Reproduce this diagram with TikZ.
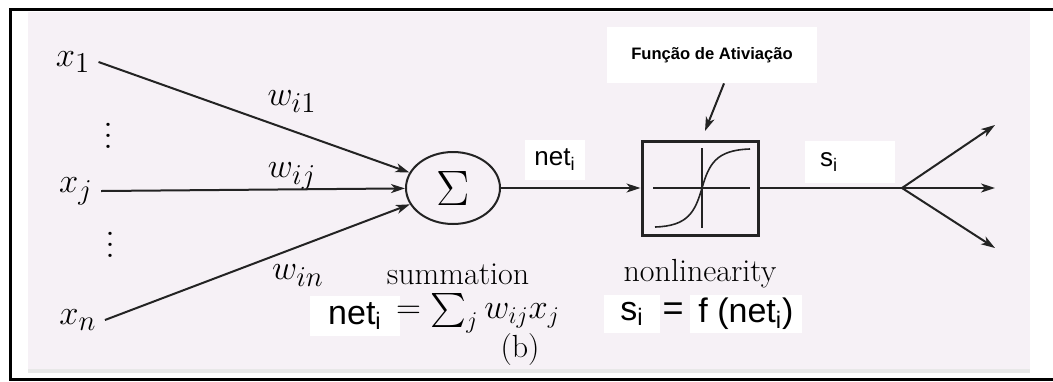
\documentclass[tikz,border=0pt]{standalone}
\usepackage{amsmath,amssymb}
\usepackage{fontspec}
\newfontfamily\arial{Liberation Sans}
\usetikzlibrary{arrows.meta,shapes.geometric}
\definecolor{paper}{RGB}{246,241,246}
\definecolor{ink}{RGB}{35,35,35}

\begin{document}
\begin{tikzpicture}[x=0.5pt,y=-0.5pt,>={Stealth[length=7pt,width=4.5pt,inset=2pt]},
 wire/.style={draw=ink,line width=1pt},
 mathlab/.style={font=\fontsize{19}{22}\selectfont,inner sep=4pt},
 dotlab/.style={font=\fontsize{20}{5.5}\selectfont,inner sep=0pt,align=center},
 sumnode/.style={draw=ink,line width=1pt,ellipse,minimum width=47pt,minimum height=36pt,inner sep=0pt,font=\fontsize{30}{34}\selectfont},
 nlbox/.style={draw=ink,line width=1.5pt,minimum width=58pt,minimum height=47pt},
 captext/.style={font=\fontsize{16}{18}\selectfont,inner sep=1pt},
 sans/.style={font=\arial\fontsize{13}{15}\selectfont,fill=white,inner sep=0pt},
 bigsans/.style={font=\arial\fontsize{17}{19}\selectfont,fill=white,inner sep=0pt},
 flab/.style={font=\arial\bfseries\fontsize{8.3}{10}\selectfont,fill=white,minimum width=105pt,minimum height=28pt}]
\useasboundingbox (0,0) rectangle (1053,381);
\fill[paper] (28,12) rectangle (1030,372);
\fill[gray!18] (28,369) rectangle (1030,373);
\draw[line width=1.5pt] (1053,9.5) -- (10.5,9.5) -- (10.5,379) -- (1053,379);

\node[mathlab] (x1) at (73,62) {$x_1$};
\node[mathlab] (xj) at (76,191) {$x_j$};
\node[mathlab] (xn) at (78,320) {$x_n$};
\node[dotlab] (dots1) at (108,136) {.\\.\\.};
\node[dotlab] (dots2) at (110,245) {.\\.\\.};
\node[mathlab] (w1) at (292,102) {$w_{i1}$};
\node[mathlab] (wj) at (292,176) {$w_{ij}$};
\node[mathlab] (wn) at (298,276) {$w_{in}$};

\node[sumnode] (sum) at (453,188) {$\Sigma$};
\node[nlbox] (nl) at (700,188) {};
\draw[ink,line width=0.8pt] (653,188) -- (750,188);
\draw[ink,line width=0.8pt] (702,148) -- (702,228);
\draw[ink,line width=0.8pt] (655,227) .. controls (688,226) and (695,212) .. (702,188)
 .. controls (709,164) and (716,150) .. (750,149);

\draw[wire,->] (x1.east) -- (sum);
\draw[wire,->] (xj.east) -- (sum);
\draw[wire,->] (xn.east) -- (sum);
\draw[wire,->] (sum) -- (nl);

\node[sans,minimum width=30pt,minimum height=20pt] (net) at (555,160) {net\textsubscript{i}};
\node[flab] (fun) at (712,55) {Função de Ativiação};
\coordinate (ftip) at (705,131);
\draw[wire,->] ([xshift=6pt]fun.south) -- (ftip);

\coordinate (split) at (902,188);
\coordinate (out1) at (995,125);
\coordinate (out2) at (995,188);
\coordinate (out3) at (995,248);
\node[sans,minimum width=45pt,minimum height=21pt,text width=30pt,align=left] (si) at (850,162) {s\textsubscript{i}};
\draw[wire] (nl) -- (split);
\draw[wire,->] (split) -- (out1);
\draw[wire,->] (split) -- (out2);
\draw[wire,->] (split) -- (out3);

\node[captext] (summ) at (458,274) {summation};
\node[captext] (nonlin) at (700,274) {nonlinearity};
\node[bigsans,minimum width=45pt,minimum height=20pt] (netb) at (355,316) {net\textsubscript{i}};
\node[font=\fontsize{17}{19}\selectfont,inner sep=1pt] (eq) at (478,313) {$=\sum_j w_{ij}x_j$};
\node[captext] (b) at (520,350) {(b)};
\node[bigsans,minimum width=28pt,minimum height=19pt] (sib) at (632,314) {s\textsubscript{i}};
\node[font=\arial\fontsize{18}{20}\selectfont] (eq2) at (673,312) {=};
\node[bigsans,minimum width=56pt,minimum height=19pt] (fnet) at (746,314) {f (net\textsubscript{i})};
\end{tikzpicture}
\end{document}
